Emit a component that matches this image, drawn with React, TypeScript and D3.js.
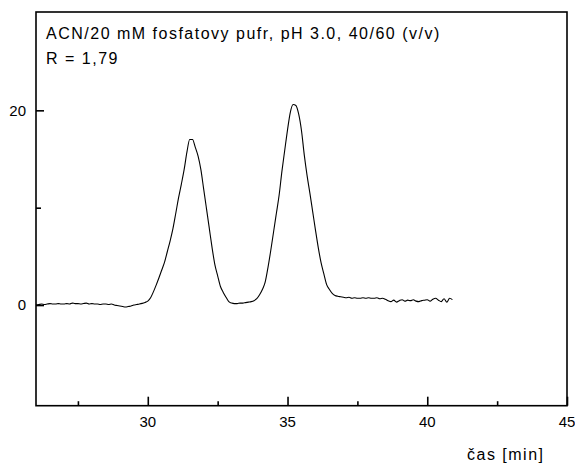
import React, { useRef, useEffect } from "react";
import * as d3 from "d3";

// sampling grid of the detector trace
const startTime = 26.0;
const timeStep = 0.1;

// signal, one row per minute (26.0 ... 40.9)
const signal = [
  0.0, 0.05, 0.1, 0.05, 0.1, 0.15, 0.1, 0.1, 0.15, 0.1,
  0.1, 0.15, 0.1, 0.2, 0.15, 0.15, 0.1, 0.15, 0.2, 0.1,
  0.15, 0.1, 0.1, 0.05, 0.1, 0.1, 0.05, 0.1, 0.0, -0.05,
  -0.1, -0.15, -0.2, -0.15, -0.1, 0.0, 0.05, 0.1, 0.17, 0.27,
  0.4, 0.75, 1.35, 2.05, 2.8, 3.6, 4.4, 5.5, 6.6, 7.85,
  9.4, 11.0, 12.4, 13.9, 15.7, 17.0, 17.0, 16.2, 15.3, 13.9,
  11.9, 9.9, 7.9, 5.9, 4.15, 3.0, 1.9, 1.3, 0.8, 0.35,
  0.2, 0.15, 0.15, 0.2, 0.2, 0.25, 0.3, 0.35, 0.45, 0.65,
  1.05, 1.6, 2.35, 3.85, 5.6, 7.5, 9.4, 11.3, 13.75, 15.9,
  18.0, 19.8, 20.6, 20.5, 19.6, 17.9, 15.4, 13.3, 11.5, 9.6,
  7.7, 5.9, 4.35, 3.2, 2.1, 1.6, 1.2, 0.98, 0.9, 0.85,
  0.8, 0.75, 0.8, 0.7, 0.75, 0.7, 0.7, 0.75, 0.7, 0.75,
  0.7, 0.7, 0.75, 0.65, 0.7, 0.6, 0.45, 0.35, 0.5, 0.3,
  0.45, 0.55, 0.4, 0.5, 0.45, 0.55, 0.4, 0.35, 0.45, 0.5,
  0.55, 0.4, 0.6, 0.7, 0.5, 0.35, 0.65, 0.3, 0.7, 0.55,
];

const xMajorTicks = [30, 35, 40, 45];
const xMinorTicks = [27.5, 32.5, 37.5, 42.5];
const yMajorTicks = [0, 20];
const yMinorTicks = [10];

const titleLines = ["ACN/20 mM fosfatovy pufr, pH 3.0, 40/60 (v/v)", "R = 1,79"];
const xLabel = "čas [min]";

export default function App() {
  const svgRef = useRef<SVGSVGElement>(null);

  useEffect(() => {
    const width = 575;
    const height = 471;
    const margin = { top: 12, right: 8, bottom: 65.3, left: 36 };
    const innerWidth = width - margin.left - margin.right;
    const innerHeight = height - margin.top - margin.bottom;

    const svg = d3.select(svgRef.current);
    svg.selectAll("*").remove();
    svg.attr("width", width).attr("height", height);

    const chart = svg
      .append("g")
      .attr("transform", `translate(${margin.left},${margin.top})`);

    const x = d3.scaleLinear().domain([26, 45]).range([0, innerWidth]);
    const y = d3.scaleLinear().domain([-10.34, 30.1]).range([innerHeight, 0]);

    const font = "Liberation Sans, Arial, sans-serif";

    /* frame */
    chart
      .append("rect")
      .attr("width", innerWidth)
      .attr("height", innerHeight)
      .attr("fill", "none")
      .attr("stroke", "#000")
      .attr("stroke-width", 1.6);

    /* x axis ticks (inward) */
    chart
      .append("g")
      .attr("transform", `translate(0,${innerHeight})`)
      .call(d3.axisTop(x).tickValues(xMajorTicks).tickSize(9).tickFormat(() => ""))
      .call((g) => g.select(".domain").remove())
      .call((g) => g.selectAll("line").attr("stroke-width", 1.6));

    chart
      .append("g")
      .attr("transform", `translate(0,${innerHeight})`)
      .call(d3.axisTop(x).tickValues(xMinorTicks).tickSize(4.5).tickFormat(() => ""))
      .call((g) => g.select(".domain").remove())
      .call((g) => g.selectAll("line").attr("stroke-width", 1.6));

    chart
      .append("g")
      .selectAll("text")
      .data(xMajorTicks)
      .enter()
      .append("text")
      .attr("x", (d) => x(d))
      .attr("y", innerHeight + 21)
      .attr("text-anchor", "middle")
      .attr("font-family", font)
      .attr("font-size", 15)
      .text((d) => d);

    /* y axis ticks (inward) */
    chart
      .append("g")
      .call(d3.axisRight(y).tickValues(yMajorTicks).tickSize(8).tickFormat(() => ""))
      .call((g) => g.select(".domain").remove())
      .call((g) => g.selectAll("line").attr("stroke-width", 1.6));

    chart
      .append("g")
      .call(d3.axisRight(y).tickValues(yMinorTicks).tickSize(5).tickFormat(() => ""))
      .call((g) => g.select(".domain").remove())
      .call((g) => g.selectAll("line").attr("stroke-width", 1.6));

    chart
      .append("g")
      .selectAll("text")
      .data(yMajorTicks)
      .enter()
      .append("text")
      .attr("x", -10)
      .attr("y", (d) => y(d))
      .attr("dy", "0.36em")
      .attr("text-anchor", "end")
      .attr("font-family", font)
      .attr("font-size", 15)
      .text((d) => d);

    /* trace */
    const points = signal.map((v, i) => [startTime + i * timeStep, v] as [number, number]);

    const line = d3
      .line<[number, number]>()
      .x((d) => x(d[0]))
      .y((d) => y(d[1]))
      .curve(d3.curveMonotoneX);

    chart
      .append("path")
      .datum(points)
      .attr("d", line)
      .attr("fill", "none")
      .attr("stroke", "#000")
      .attr("stroke-width", 1.1);

    /* annotation */
    titleLines.forEach((t, i) => {
      svg
        .append("text")
        .attr("x", 46)
        .attr("y", 39 + i * 24.5)
        .attr("font-family", font)
        .attr("font-size", 16)
        .attr("letter-spacing", 1.5)
        .text(t);
    });

    svg
      .append("text")
      .attr("x", 467)
      .attr("y", 460)
      .attr("font-family", font)
      .attr("font-size", 16)
      .attr("letter-spacing", 1.5)
      .text(xLabel);
  }, []);

  return (
    <div style={{ position: "absolute", left: 0, top: 0, background: "#fff" }}>
      <svg ref={svgRef} style={{ display: "block" }} />
    </div>
  );
}
